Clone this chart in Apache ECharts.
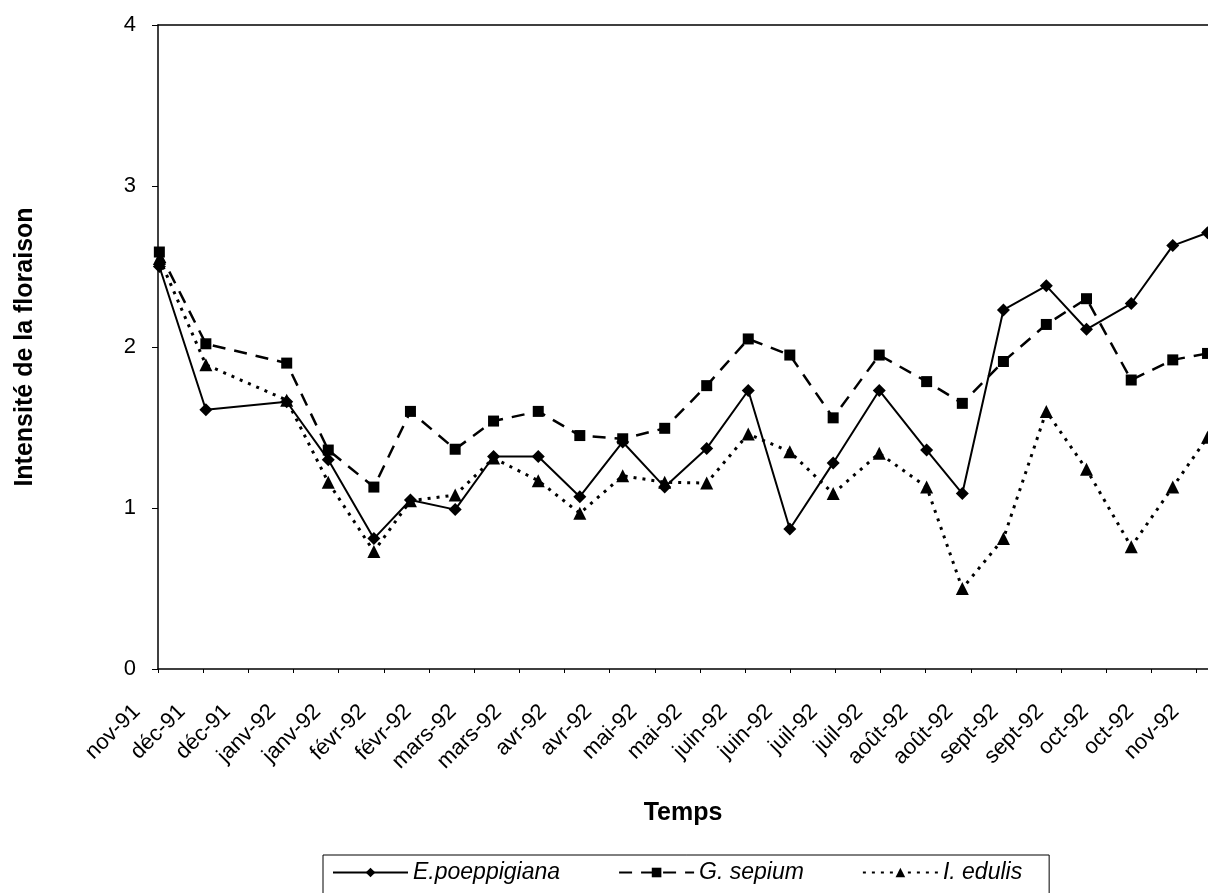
<!DOCTYPE html>
<html><head><meta charset="utf-8">
<script src="https://cdn.jsdelivr.net/npm/echarts@6/dist/echarts.min.js"></script>
<style>html,body{margin:0;padding:0;background:#fff}#c{width:1208px;height:893px}</style>
</head><body><div id="c"></div>
<script>
// Tick labels of the time axis (one tick every ~half month)
const tickLabels = ['nov-91','déc-91','déc-91','janv-92','janv-92','févr-92','févr-92','mars-92','mars-92','avr-92','avr-92','mai-92','mai-92','juin-92','juin-92','juil-92','juil-92','août-92','août-92','sept-92','sept-92','oct-92','oct-92','nov-92'];
// Sampling dates, expressed in tick units (0 = nov-91 tick)
const xPos = [0.03, 1.06, 2.85, 3.77, 4.78, 5.59, 6.58, 7.43, 8.42, 9.34, 10.29, 11.22, 12.15, 13.07, 13.99, 14.95, 15.97, 17.02, 17.81, 18.72, 19.67, 20.56, 21.55, 22.47, 23.24];
const ePoep = [2.50, 1.61, 1.66, 1.30, 0.81, 1.05, 0.99, 1.32, 1.32, 1.07, 1.41, 1.13, 1.37, 1.73, 0.87, 1.28, 1.73, 1.36, 1.09, 2.23, 2.38, 2.11, 2.27, 2.63, 2.71];
const gSep  = [2.59, 2.02, 1.90, 1.36, 1.13, 1.60, 1.365, 1.54, 1.60, 1.45, 1.43, 1.495, 1.76, 2.05, 1.95, 1.56, 1.95, 1.785, 1.65, 1.91, 2.14, 2.30, 1.795, 1.92, 1.96];
const iEdu  = [2.55, 1.89, 1.67, 1.16, 0.73, 1.045, 1.08, 1.31, 1.17, 0.967, 1.20, 1.16, 1.155, 1.46, 1.35, 1.09, 1.34, 1.13, 0.50, 0.81, 1.60, 1.24, 0.76, 1.13, 1.44];
const yTicks = [0, 1, 2, 3, 4];
const seriesNames = ['E.poeppigiana', 'G. sepium', 'I. edulis'];

const FONT = "'Liberation Sans', Arial, sans-serif";
const pairs = v => xPos.map((x, i) => [x, v[i]]);

const chart = echarts.init(document.getElementById('c'), null, {renderer: 'canvas'});
chart.setOption({
  animation: false,
  backgroundColor: '#fff',
  textStyle: {fontFamily: FONT, color: '#000'},
  grid: {left: 158, top: 25, right: 0, bottom: 224, show: false},
  xAxis: [{
    type: 'value', min: 0, max: 23.25, interval: 1,
    name: 'Temps', nameLocation: 'middle', nameGap: 132,
    nameTextStyle: {fontSize: 25, fontWeight: 'bold', color: '#000', fontFamily: FONT},
    axisLine: {show: true, lineStyle: {color: '#000', width: 1.5}},
    axisTick: {show: true, length: 4, lineStyle: {color: '#000', width: 1}},
    splitLine: {show: false},
    axisLabel: {
      rotate: 45, margin: 18, padding: [0, 30, 0, 0], fontSize: 22, color: '#000', fontFamily: FONT,
      showMaxLabel: false,
      formatter: v => (Math.abs(v - Math.round(v)) < 1e-6 && tickLabels[Math.round(v)] !== undefined) ? tickLabels[Math.round(v)] : ''
    }
  }, {
    type: 'value', position: 'top', min: 0, max: 23.25,
    axisLine: {show: true, onZero: false, lineStyle: {color: '#000', width: 1.5}},
    axisTick: {show: false}, axisLabel: {show: false}, splitLine: {show: false}
  }],
  yAxis: {
    type: 'value', min: yTicks[0], max: yTicks[yTicks.length - 1], interval: 1,
    name: 'Intensité de la floraison', nameLocation: 'middle', nameGap: 120,
    nameTextStyle: {fontSize: 25, fontWeight: 'bold', color: '#000', fontFamily: FONT},
    axisLine: {show: true, lineStyle: {color: '#000', width: 1.5}},
    axisTick: {show: true, length: 6, lineStyle: {color: '#000', width: 1}},
    splitLine: {show: false},
    axisLabel: {fontSize: 22, margin: 22, color: '#000', fontFamily: FONT}
  },
  legend: {
    left: 323, top: 855,
    padding: [6, 27, 40, 9],
    borderColor: '#000', borderWidth: 1,
    itemWidth: 75, itemHeight: 12, itemGap: 58,
    textStyle: {fontSize: 23, fontStyle: 'italic', color: '#000', fontFamily: FONT},
    data: seriesNames
  },
  series: [
    {
      name: seriesNames[2], type: 'line', data: pairs(iEdu),
      symbol: 'triangle', symbolSize: 13, showAllSymbol: true,
      lineStyle: {color: '#000', width: 3, type: [3, 6], cap: 'butt'},
      itemStyle: {color: '#000'}, z: 2
    },
    {
      name: seriesNames[1], type: 'line', data: pairs(gSep),
      symbol: 'rect', symbolSize: 11, showAllSymbol: true,
      lineStyle: {color: '#000', width: 2.5, type: [13, 9]},
      itemStyle: {color: '#000'}, z: 3
    },
    {
      name: seriesNames[0], type: 'line', data: pairs(ePoep),
      symbol: 'diamond', symbolSize: 13, showAllSymbol: true,
      lineStyle: {color: '#000', width: 2},
      itemStyle: {color: '#000'}, z: 4
    }
  ]
});
</script>
</body></html>
